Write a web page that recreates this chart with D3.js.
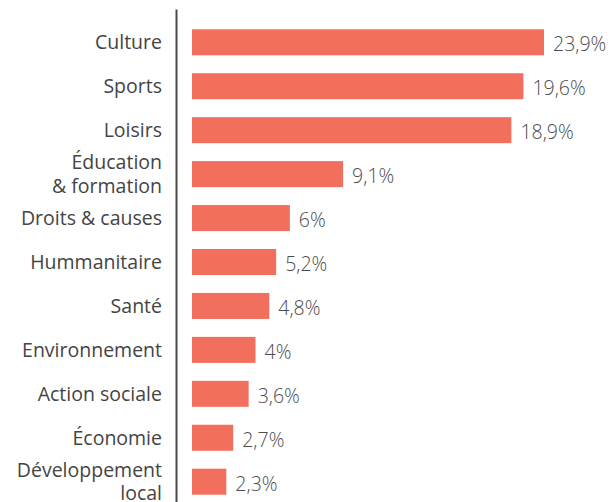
<!DOCTYPE html>
<html>
<head>
<meta charset="utf-8">
<script src="https://cdn.jsdelivr.net/npm/d3@7"></script>
<style>
  body { margin: 0; background: #fff; }
  svg text { font-family: "Open Sans", "Noto Sans", sans-serif; }
  .cat-label { font-size: 19.5px; fill: #444; }
  .val-label { font-size: 19.5px; font-weight: 300; fill: #4d4d4d; }
</style>
</head>
<body>
<div id="chart-container"></div>
<script>
// data
const categories = ["Culture", "Sports", "Loisirs", "Éducation\n& formation", "Droits & causes",
    "Hummanitaire", "Santé", "Environnement", "Action sociale", "Économie", "Développement\nlocal"];
const values = [23.9, 19.6, 18.9, 9.1, 6, 5.2, 4.8, 4, 3.6, 2.7, 2.3];

const data = categories.map((c, i) => ({category: c, value: values[i]}));

const width = 610;
const height = 502;
const barColor = "#f36f5d";

// french number format: 23,9%
const fr = d3.formatLocale({decimal: ",", thousands: " ", grouping: [3], currency: ["", " €"]});
const fmt = v => fr.format(".1~f")(v) + "%";

const svg = d3.select("#chart-container")
    .append("svg")
        .attr("width", width)
        .attr("height", height);

// y scale
const yScale = d3.scaleBand()
    .domain(categories)
    .range([9, 515])
    .paddingInner(0.408)
    .paddingOuter(0.462);

// x scale (clamped so the biggest bar fits, as in the original)
const xScale = d3.scaleLinear()
    .domain([0.3, 20.8])
    .range([192, 544])
    .clamp(true);

// y axis: just the vertical line + category labels
const yAxis = d3.axisLeft(yScale)
    .tickSize(0)
    .tickPadding(14);

const axisG = svg.append("g")
    .attr("transform", "translate(176, 0)")
    .call(yAxis);

axisG.select(".domain")
    .attr("stroke", "#4a4a4a")
    .attr("stroke-width", 2);

// labels, two lines where needed
const lineH = 1.2;
axisG.selectAll(".tick text")
    .attr("class", "cat-label")
    .attr("font-family", null)
    .attr("font-size", null)
    .attr("fill", null)
    .each(function(d) {
        const lines = d.split("\n");
        const t = d3.select(this).text(null).attr("dy", null);
        lines.forEach((line, i) => {
            t.append("tspan")
                .attr("x", -14)
                .attr("dy", i === 0 ? (0.36 - (lines.length - 1) * lineH / 2) + "em" : lineH + "em")
                .text(line);
        });
    });

// bars
svg.selectAll(".bar")
    .data(data)
    .join("rect")
        .attr("class", "bar")
        .attr("x", xScale(0.3))
        .attr("y", d => yScale(d.category))
        .attr("width", d => xScale(d.value) - xScale(0.3))
        .attr("height", yScale.bandwidth())
        .attr("fill", barColor);

// value labels
svg.selectAll(".val-label")
    .data(data)
    .join("text")
        .attr("class", "val-label")
        .attr("x", d => xScale(d.value) + 9)
        .attr("y", d => yScale(d.category) + yScale.bandwidth() / 2 + 2)
        .attr("dy", "0.36em")
        .text(d => fmt(d.value));
</script>
</body>
</html>
